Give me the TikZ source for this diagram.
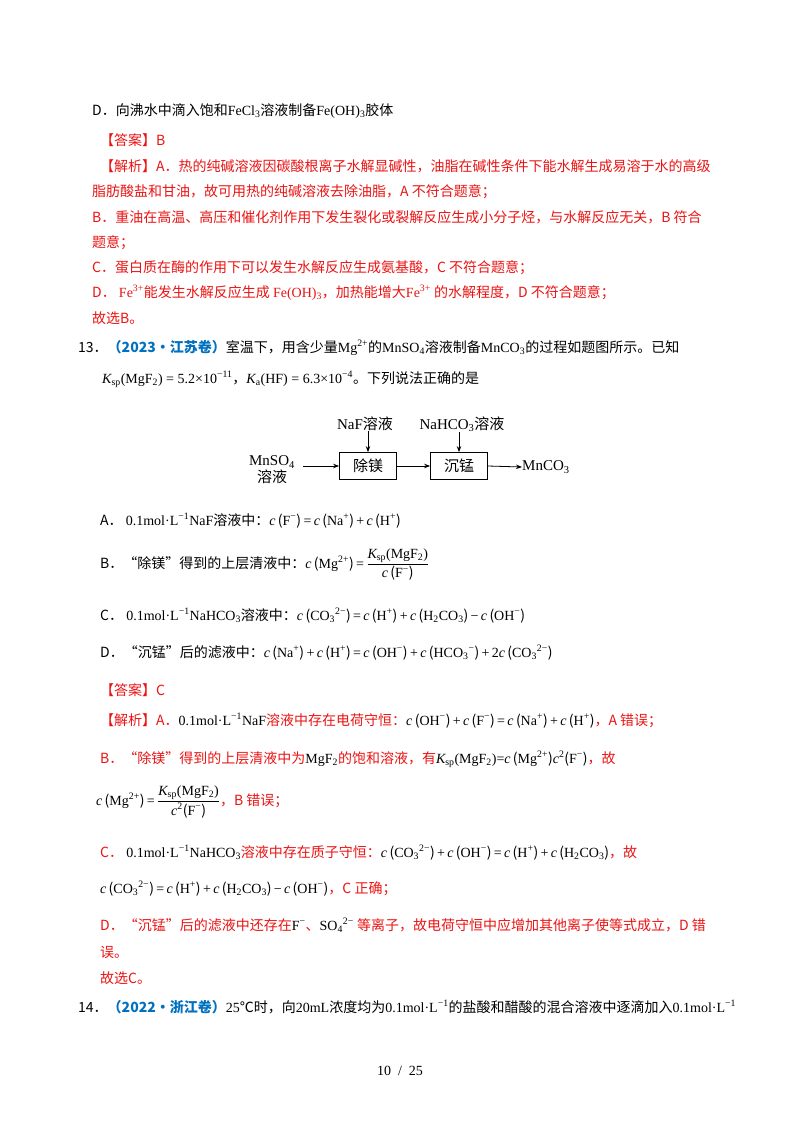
\documentclass[tikz,border=0pt]{standalone}
\usetikzlibrary{arrows.meta}
\usepackage{amsmath}
\usepackage{fontspec}
\setmainfont{Noto Sans CJK SC}
\newfontfamily\tm{Liberation Serif}
\definecolor{ansred}{RGB}{235,20,20}
\definecolor{qblue}{RGB}{0,112,192}
\newcommand{\ci}{{\tm\itshape c}}
\newcommand{\cx}[1]{\ci\,({\tm #1})}
\newcommand{\sbs}[1]{\textsubscript{#1}}
\newcommand{\sps}[1]{\textsuperscript{#1}}
\begin{document}
\begin{tikzpicture}[x=1pt,y=-1pt,
  txt/.style={anchor=base west,inner sep=0pt,font=\fontsize{14}{16}\selectfont},
  red/.style={txt,text=ansred},
  boxn/.style={draw,thick,minimum width=57pt,minimum height=27pt,font=\fontsize{15}{16}\selectfont,inner sep=0pt},
  lab/.style={inner sep=0pt,font=\fontsize{15}{17}\selectfont},
  arr/.style={-{Stealth[length=6pt]},thick}]
\useasboundingbox[fill=white] (0,0) rectangle (800,1132);
\node[txt] (l1) at (92,115) {D．向沸水中滴入饱和{\tm FeCl\sbs{3}}溶液制备{\tm Fe(OH)\sbs{3}}胶体};
\node[red] (l2) at (100,145) {【答案】B};
\node[red] (l3) at (100,171) {【解析】A．热的纯碱溶液因碳酸根离子水解显碱性，油脂在碱性条件下能水解生成易溶于水的高级};
\node[red] (l4) at (92,196) {脂肪酸盐和甘油，故可用热的纯碱溶液去除油脂，A 不符合题意；};
\node[red] (l5) at (92,222) {B．重油在高温、高压和催化剂作用下发生裂化或裂解反应生成小分子烃，与水解反应无关，B 符合};
\node[red] (l6) at (92,247) {题意；};
\node[red] (l7) at (92,272) {C．蛋白质在酶的作用下可以发生水解反应生成氨基酸，C 不符合题意；};
\node[red] (l8) at (92,297) {D．\ {\tm Fe\sps{3+}}能发生水解反应生成\ {\tm Fe(OH)\sbs{3}}，加热能增大{\tm Fe\sps{3+}}\ 的水解程度，D 不符合题意；};
\node[red] (l9) at (92,323) {故选B。};
\node[txt] (l10) at (78,352) {13．\textcolor{qblue}{\bfseries （2023·江苏卷）}室温下，用含少量{\tm Mg\sps{2+}}的{\tm MnSO\sbs{4}}溶液制备{\tm MnCO\sbs{3}}的过程如题图所示。已知};
\node[txt] (l11) at (102,383) {{\tm\itshape K}\sbs{\tm sp}{\tm (MgF\sbs{2}) = 5.2×10\sps{−11}}，{\tm\itshape K}\sbs{\tm a}{\tm (HF) = 6.3×10\sps{−4}}。下列说法正确的是};
% diagram
\node[boxn] (b1) at (368,466) {除镁};
\node[boxn] (b2) at (459,466) {沉锰};
\node[lab,align=center] (mn) at (272,470) {{\tm MnSO\sbs{4}}\\溶液};
\node[lab] (naf) at (365,424) {{\tm NaF}溶液};
\node[lab] (nah) at (462,424) {{\tm NaHCO\sbs{3}}溶液};
\node[lab,anchor=west] (mc) at (522,467) {\tm MnCO\sbs{3}};
\draw[arr] (mn.east|-b1) ++(8,0) coordinate (s) -- (b1.west);
\draw[arr] (b1.east) -- (b2.west);
\draw[arr] (b2.east) -- (mc.west);
\draw[arr] (naf.south-|b1) -- (b1.north);
\draw[arr] (nah.south-|b2) -- (b2.north);
% options
\node[txt] (a1) at (100,525) {A．\ {\tm 0.1mol·L\sps{−1}NaF}溶液中：\cx{F\sps{−}}{\tm\,=\,}\cx{Na\sps{+}}{\tm\,+\,}\cx{H\sps{+}}};
\node[txt] (a2) at (100,568) {B．“除镁”得到的上层清液中：\cx{Mg\sps{2+}}{\tm\,=\,}$\dfrac{\text{\tm\itshape K\sbs{\upshape sp}\upshape(MgF\sbs{2})}}{\text{\cx{F\sps{−}}}}$};
\node[txt] (a3) at (100,620) {C．\ {\tm 0.1mol·L\sps{−1}NaHCO\sbs{3}}溶液中：\cx{CO\sbs{3}\sps{2−}}{\tm\,=\,}\cx{H\sps{+}}{\tm\,+\,}\cx{H\sbs{2}CO\sbs{3}}{\tm\,−\,}\cx{OH\sps{−}}};
\node[txt] (a4) at (100,657) {D．“沉锰”后的滤液中：\cx{Na\sps{+}}{\tm\,+\,}\cx{H\sps{+}}{\tm\,=\,}\cx{OH\sps{−}}{\tm\,+\,}\cx{HCO\sbs{3}\sps{−}}{\tm\,+\,2}\cx{CO\sbs{3}\sps{2−}}};
\node[red] (r1) at (100,695) {【答案】C};
\node[red] (r2) at (100,725) {【解析】A．\textcolor{black}{\tm 0.1mol·L\sps{−1}NaF}溶液中存在电荷守恒：\textcolor{black}{\cx{OH\sps{−}}{\tm\,+\,}\cx{F\sps{−}}{\tm\,=\,}\cx{Na\sps{+}}{\tm\,+\,}\cx{H\sps{+}}}，A 错误；};
\node[red] (r3) at (100,763) {B．“除镁”得到的上层清液中为\textcolor{black}{\tm MgF\sbs{2}}的饱和溶液，有\textcolor{black}{{\tm\itshape K}\sbs{\tm sp}{\tm (MgF\sbs{2})=}\cx{Mg\sps{2+}}\ci\sps{\tm 2}({\tm F\sps{−}})}，故};
\node[red] (r4) at (96,805) {\textcolor{black}{\cx{Mg\sps{2+}}{\tm\,=\,}$\dfrac{\text{\tm\itshape K\sbs{\upshape sp}\upshape(MgF\sbs{2})}}{\text{\ci\sps{\tm 2}({\tm F\sps{−}})}}$}，B 错误；};
\node[red] (r5) at (100,857) {C．\ \textcolor{black}{\tm 0.1mol·L\sps{−1}NaHCO\sbs{3}}溶液中存在质子守恒：\textcolor{black}{\cx{CO\sbs{3}\sps{2−}}{\tm\,+\,}\cx{OH\sps{−}}{\tm\,=\,}\cx{H\sps{+}}{\tm\,+\,}\cx{H\sbs{2}CO\sbs{3}}}，故};
\node[red] (r6) at (100,893) {\textcolor{black}{\cx{CO\sbs{3}\sps{2−}}{\tm\,=\,}\cx{H\sps{+}}{\tm\,+\,}\cx{H\sbs{2}CO\sbs{3}}{\tm\,−\,}\cx{OH\sps{−}}}，C 正确；};
\node[red] (r7) at (100,930) {D．“沉锰”后的滤液中还存在\textcolor{black}{\tm F\sps{−}}、\textcolor{black}{\tm SO\sbs{4}\sps{2−}}\ 等离子，故电荷守恒中应增加其他离子使等式成立，D 错};
\node[red] (r8) at (100,957) {误。};
\node[red] (r9) at (100,983) {故选C。};
\node[txt] (q14) at (78,1012) {14．\textcolor{qblue}{\bfseries （2022·浙江卷）}{\tm 25}℃时，向{\tm 20mL}浓度均为{\tm 0.1mol·L\sps{−1}}的盐酸和醋酸的混合溶液中逐滴加入{\tm 0.1mol·L\sps{−1}}};
\node[txt,anchor=base] (pg) at (400,1075) {\tm 10\ \ /\ \ 25};
\end{tikzpicture}
\end{document}
